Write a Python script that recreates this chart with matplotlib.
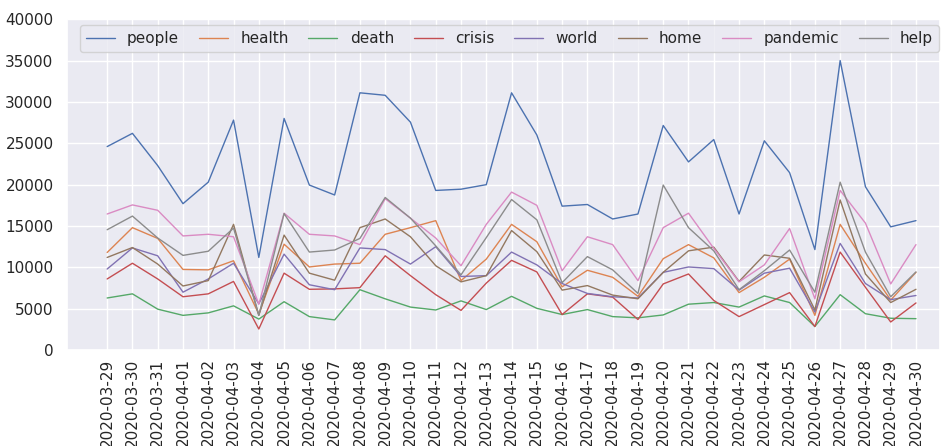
"""
Daily keyword counts, 2020-03-29 to 2020-04-30.
"""

import matplotlib
matplotlib.use('Agg')
import matplotlib.pyplot as plt
import seaborn as sns
import pandas as pd

dates = pd.date_range('2020-03-29', '2020-04-30').strftime('%Y-%m-%d').tolist()

people = [24600, 26200, 22300, 17700, 20300, 27800, 11200, 28000, 19950, 18750,
          31100, 30800, 27550, 19300, 19450, 20000, 31100, 26000, 17400, 17600,
          15850, 16450, 27150, 22750, 25450, 16450, 25300, 21450, 12150, 35000,
          19750, 14900, 15650]
health = [11800, 14800, 13500, 9750, 9700, 10800, 4350, 12800, 10050, 10400,
          10500, 14000, 14800, 15650, 8400, 11000, 15200, 13100, 7650, 9650,
          8800, 6500, 11050, 12750, 11150, 6950, 8800, 11000, 4200, 15200,
          10500, 6050, 9400]
death = [6300, 6800, 4950, 4200, 4500, 5350, 3750, 5850, 4050, 3650,
         7300, 6200, 5200, 4850, 5950, 4900, 6500, 5050, 4300, 4900,
         4050, 3900, 4250, 5550, 5750, 5200, 6550, 5750, 2850, 6700,
         4400, 3850, 3800]
crisis = [8600, 10500, 8600, 6450, 6800, 8300, 2550, 9300, 7350, 7400,
          7550, 11400, 9000, 6700, 4800, 8100, 10850, 9450, 4300, 6800,
          6400, 3700, 8000, 9200, 6000, 4050, 5500, 6950, 2850, 11850,
          7600, 3400, 5700]
world = [9800, 12350, 11400, 7000, 8600, 10500, 5600, 11600, 7900, 7300,
         12350, 12150, 10400, 12500, 8900, 9000, 11850, 10300, 8050, 6850,
         6450, 6300, 9400, 10050, 9850, 7250, 9300, 9900, 4600, 12900,
         8050, 6100, 6600]
home = [11200, 12400, 10400, 7750, 8400, 15200, 4200, 13900, 9300, 8450,
        14800, 15850, 13700, 10200, 8250, 9000, 14450, 11900, 7250, 7800,
        6650, 6200, 9400, 12000, 12450, 8300, 11500, 11100, 4850, 18150,
        9200, 5750, 7350]
pandemic = [16450, 17550, 16900, 13800, 14000, 13700, 5550, 16550, 14000, 13800,
            12750, 18300, 15950, 13550, 10200, 15200, 19100, 17500, 9600, 13700,
            12750, 8400, 14800, 16550, 12300, 8250, 10300, 14700, 6200, 19300,
            15350, 8000, 12750]
help_ = [14550, 16200, 13550, 11450, 11950, 14750, 4200, 16500, 11850, 12100,
         13500, 18450, 15950, 12600, 9100, 13600, 18200, 15750, 8150, 11300,
         9700, 6850, 19950, 14800, 12000, 7300, 9600, 12100, 7000, 20300,
         11850, 6450, 9450]

series = {
    'people': people, 'health': health, 'death': death, 'crisis': crisis,
    'world': world, 'home': home, 'pandemic': pandemic, 'help': help_,
}

sns.set_theme(style='darkgrid')
plt.rcParams['font.family'] = ['DejaVu Sans']

fig, ax = plt.subplots(figsize=(9.45, 4.46), dpi=100)
fig.subplots_adjust(left=0.0706, right=0.9947, top=0.957, bottom=0.215)

for name, vals in series.items():
    ax.plot(dates, vals, lw=1, label=name)

ax.set_ylim(0, 40000)
ax.set_xlim(-1.6, len(dates) - 0.05)
ax.tick_params(axis='x', labelrotation=90, pad=0)
ax.legend(ncol=8, loc='upper center', fontsize=11, columnspacing=1.3,
          handlelength=1.9, bbox_to_anchor=(0.507, 1.005))

fig.savefig('out.png', dpi=100)
plt.close(fig)
